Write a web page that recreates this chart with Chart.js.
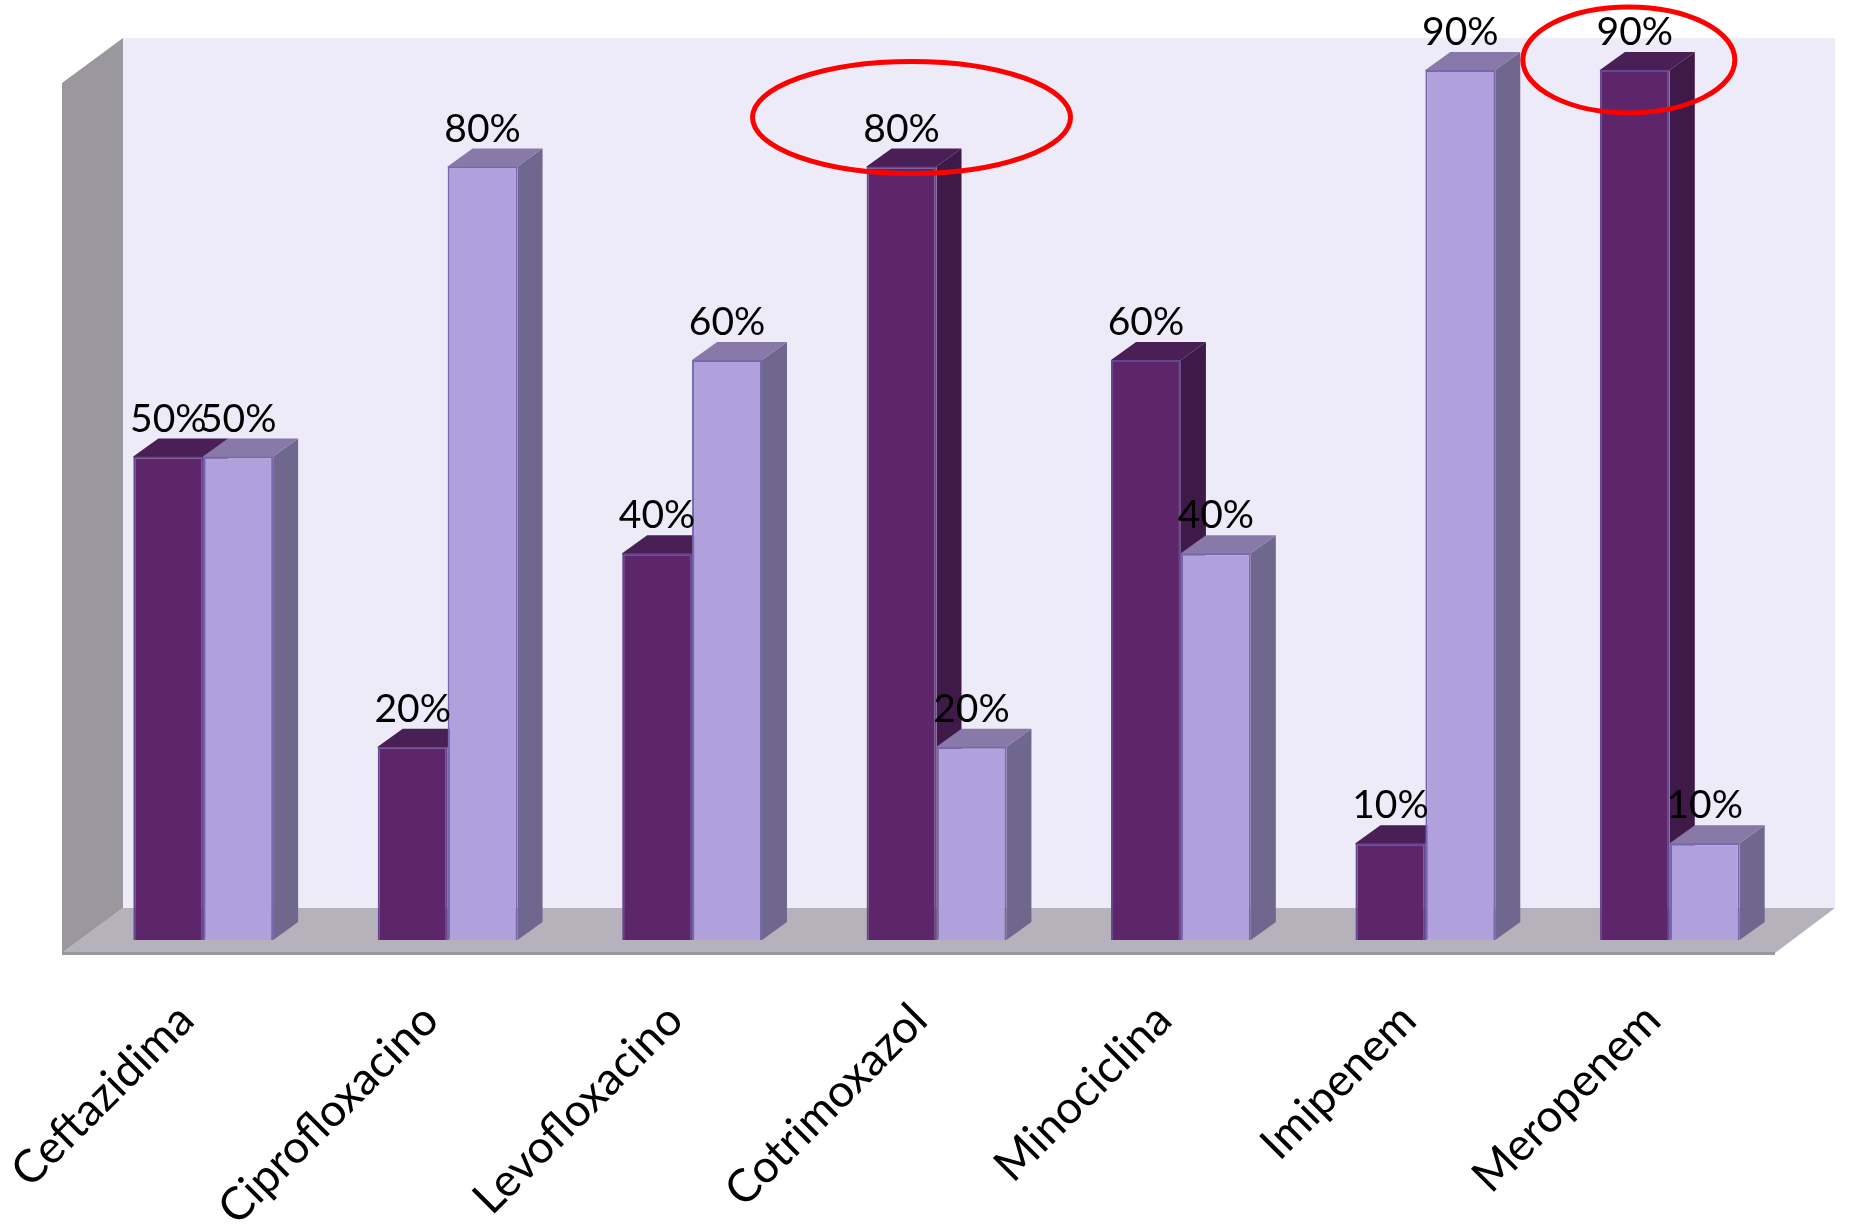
<!DOCTYPE html>
<html>
<head>
<meta charset="utf-8">
<script src="https://cdn.jsdelivr.net/npm/chart.js@4"></script>
<style>
  html, body { margin: 0; padding: 0; background: #fff; }
  canvas { display: block; }
</style>
</head>
<body>
<canvas id="myChart" width="1852" height="1225"></canvas>
<script>
const categories = ['Ceftazidima', 'Ciprofloxacino', 'Levofloxacino', 'Cotrimoxazol', 'Minociclina', 'Imipenem', 'Meropenem']
const darkValues = [50, 20, 40, 80, 60, 10, 90]
const lightValues = [50, 80, 60, 20, 40, 90, 10]

const labelFont = 'Lato, sans-serif'

// colours of the faces each bar gets from the fake 3D
const faces = [
    { top: '#4a1f55', side: '#3f1a49' },
    { top: '#8879a8', side: '#6f678e' }
]
const depthX = 25
const depthY = 18

function poly(ctx, pts, fill) {
    ctx.beginPath()
    pts.forEach((p, i) => i ? ctx.lineTo(p[0], p[1]) : ctx.moveTo(p[0], p[1]))
    ctx.closePath()
    ctx.fillStyle = fill
    ctx.fill()
}

const room = {
    id: 'room',
    beforeDatasetsDraw(chart) {
        const { ctx, chartArea: a } = chart
        const backL = a.left + 42, backR = a.right + 43, backB = a.bottom - 32
        const frontL = a.left - 19, frontR = a.right - 17, frontB = a.bottom + 13
        ctx.save()
        poly(ctx, [[backL, a.top], [backR, a.top], [backR, backB], [backL, backB]], '#edebf8')
        poly(ctx, [[frontL, frontB], [frontR, frontB], [backR, backB], [backL, backB]], '#b5b2bb')
        poly(ctx, [[frontL, a.top + 45], [backL, a.top], [backL, backB], [frontL, frontB]], '#9a989e')
        ctx.fillStyle = '#98979c'
        ctx.fillRect(frontL, frontB - 1, frontR - frontL, 3)
        // side and top faces go under all front faces, dark bars first
        chart.data.datasets.forEach((ds, i) => {
            const f = faces[i]
            chart.getDatasetMeta(i).data.forEach(bar => {
                const l = bar.x - bar.width / 2
                const r = bar.x + bar.width / 2
                const t = bar.y
                const b = bar.base
                poly(ctx, [[r, t], [r + depthX, t - depthY], [r + depthX, b - depthY], [r, b]], f.side)
                // 1px under the front face so no seam shows the bar behind
                poly(ctx, [[l, t + 1], [l, t], [l + depthX, t - depthY], [r + depthX, t - depthY], [r, t], [r, t + 1]], f.top)
            })
        })
        ctx.restore()
    }
}

const valueLabels = {
    id: 'valueLabels',
    afterDatasetsDraw(chart) {
        const { ctx } = chart
        ctx.save()
        ctx.font = '39px ' + labelFont
        ctx.fillStyle = '#000'
        ctx.textAlign = 'center'
        ctx.textBaseline = 'alphabetic'
        chart.data.datasets.forEach((ds, i) => {
            chart.getDatasetMeta(i).data.forEach((bar, j) => {
                ctx.fillText(ds.data[j] + '%', bar.x, bar.y - 25)
            })
        })
        ctx.restore()
    }
}

// the two red rings are placed relative to the highlighted dark bars
const rings = {
    id: 'rings',
    afterDraw(chart) {
        const { ctx } = chart
        const bars = chart.getDatasetMeta(0).data
        ctx.save()
        ctx.strokeStyle = '#ff0000'
        ctx.lineWidth = 5
        ctx.beginPath()
        ctx.ellipse(bars[3].x + 10, bars[3].y - 49, 159, 56, 0, 0, Math.PI * 2)
        ctx.stroke()
        ctx.beginPath()
        ctx.ellipse(bars[6].x - 6, bars[6].y - 10, 106, 53, 0, 0, Math.PI * 2)
        ctx.stroke()
        ctx.restore()
    }
}

const ctx = document.getElementById('myChart')

const data = {
    labels: categories,
    datasets: [{
        data: darkValues,
        backgroundColor: '#5e266a',
        borderColor: '#64478f',
        borderWidth: 2
    }, {
        data: lightValues,
        backgroundColor: '#b0a1dc',
        borderColor: '#7a66ae',
        borderWidth: 2
    }]
}

const config = {
    type: 'bar',
    data: data,
    plugins: [room, valueLabels, rings],
    options: {
        responsive: false,
        animation: false,
        layout: { padding: { left: 81, right: 60, top: 38, bottom: 0 } },
        datasets: { bar: { categoryPercentage: 0.572, barPercentage: 1 } },
        plugins: { legend: { display: false }, tooltip: { enabled: false } },
        scales: {
            x: {
                grid: { display: false, drawTicks: false },
                border: { display: false },
                ticks: {
                    autoSkip: false,
                    minRotation: 45,
                    maxRotation: 45,
                    padding: 53,
                    labelOffset: -17,
                    color: '#000',
                    font: { family: labelFont, size: 45.5 }
                },
                afterFit(scale) {
                    scale.height = 285
                    scale.paddingLeft = 0
                    scale.paddingRight = 0
                }
            },
            y: {
                display: false,
                min: 0,
                max: 93.3
            }
        }
    }
}

const myChart = new Chart(ctx, config)
</script>
</body>
</html>
